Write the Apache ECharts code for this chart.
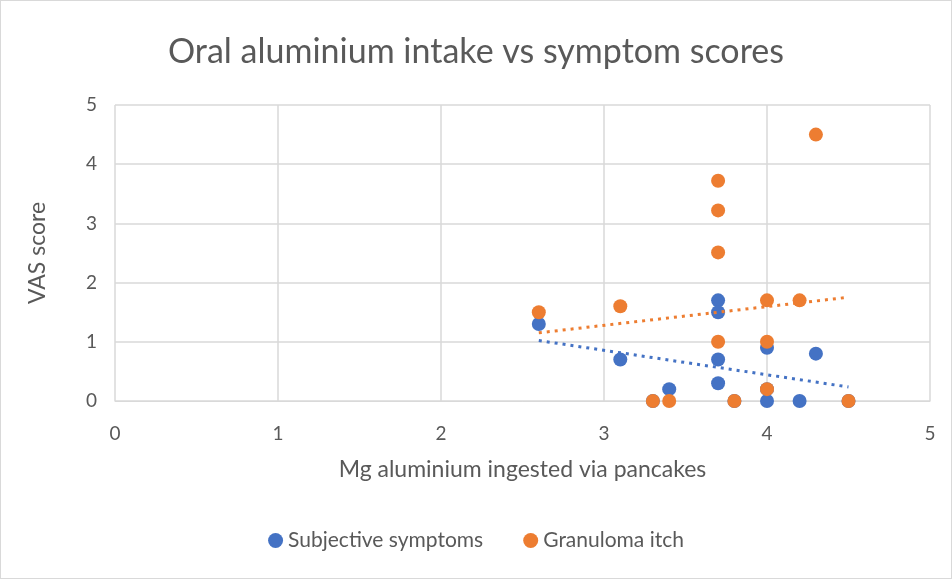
<!DOCTYPE html>
<html>
<head>
<meta charset="utf-8">
<script src="https://cdn.jsdelivr.net/npm/echarts@6/dist/echarts.min.js"></script>
<style>
  html, body { margin: 0; padding: 0; background: #fff; }
  #chart { width: 952px; height: 579px; box-sizing: border-box; border: 1px solid #d9d9d9; }
</style>
</head>
<body>
<div id="chart"></div>
<script>
// mg aluminium per patient (shared by both series)
const doses = [2.6, 3.1, 3.3, 3.4, 3.7, 3.7, 3.7, 3.7, 3.8, 4.0, 4.0, 4.0, 4.2, 4.3, 4.5];
const subjective = [1.3, 0.7, 0, 0.2, 1.7, 1.5, 0.7, 0.3, 0, 0.9, 0, 0.2, 0, 0.8, 0];
const granuloma = [1.5, 1.6, 0, 0, 3.72, 3.22, 2.51, 1.0, 0, 1.7, 1.0, 0.2, 1.7, 4.5, 0];

const blue = '#4472C4';
const orange = '#ED7D31';
const textColor = '#595959';
const font = 'Lato';

// linear trendline, like excel
function trend(xs, ys) {
    const n = xs.length;
    const mx = xs.reduce((a, b) => a + b, 0) / n;
    const my = ys.reduce((a, b) => a + b, 0) / n;
    let sxy = 0, sxx = 0;
    for (let i = 0; i < n; i++) {
        sxy += (xs[i] - mx) * (ys[i] - my);
        sxx += (xs[i] - mx) * (xs[i] - mx);
    }
    const k = sxy / sxx;
    const lo = Math.min(...xs), hi = Math.max(...xs);
    return [[lo, my + k * (lo - mx)], [hi, my + k * (hi - mx)]];
}

const pairs = (ys) => doses.map((x, i) => [x, ys[i]]);

const chart = echarts.init(document.getElementById('chart'));
chart.setOption({
    animation: false,
    title: {
        text: 'Oral aluminium intake vs symptom scores',
        left: 'center',
        top: 29,
        textStyle: { fontFamily: font, fontSize: 34, fontWeight: 'normal', color: textColor }
    },
    legend: {
        bottom: 22,
        left: 'center',
        itemGap: 40,
        itemWidth: 15,
        itemHeight: 15,
        textStyle: { fontFamily: font, fontSize: 21, color: textColor },
        data: [
            { name: 'Subjective symptoms', icon: 'circle' },
            { name: 'Granuloma itch', icon: 'circle' }
        ]
    },
    grid: { left: 114, right: 21, top: 104, bottom: 177 },
    xAxis: {
        type: 'value',
        min: 0, max: 5, interval: 1,
        name: 'Mg aluminium ingested via pancakes',
        nameLocation: 'middle',
        nameGap: 57,
        nameTextStyle: { fontFamily: font, fontSize: 23, color: textColor },
        axisLine: { lineStyle: { color: '#d9d9d9' } },
        axisTick: { show: false },
        axisLabel: { fontFamily: font, fontSize: 19, color: textColor, margin: 23 },
        splitLine: { lineStyle: { color: '#d9d9d9', width: 1.5 } }
    },
    yAxis: {
        type: 'value',
        min: 0, max: 5, interval: 1,
        name: 'VAS score',
        nameLocation: 'middle',
        nameGap: 66,
        nameTextStyle: { fontFamily: font, fontSize: 23, color: textColor },
        axisLine: { show: false },
        axisTick: { show: false },
        axisLabel: { fontFamily: font, fontSize: 19, color: textColor, margin: 18 },
        splitLine: { lineStyle: { color: '#d9d9d9', width: 1.5 } }
    },
    series: [
        {
            name: 'Subjective symptoms',
            type: 'scatter',
            symbolSize: 14,
            itemStyle: { color: blue, opacity: 1 },
            data: pairs(subjective),
            z: 2
        },
        {
            name: 'Granuloma itch',
            type: 'scatter',
            symbolSize: 14,
            itemStyle: { color: orange, opacity: 1 },
            data: pairs(granuloma),
            z: 3
        },
        {
            type: 'line',
            symbol: 'none',
            silent: true,
            lineStyle: { color: blue, width: 3, type: [3, 5] },
            data: trend(doses, subjective),
            z: 4
        },
        {
            type: 'line',
            symbol: 'none',
            silent: true,
            lineStyle: { color: orange, width: 3, type: [3, 5] },
            data: trend(doses, granuloma),
            z: 4
        }
    ]
});
</script>
</body>
</html>
